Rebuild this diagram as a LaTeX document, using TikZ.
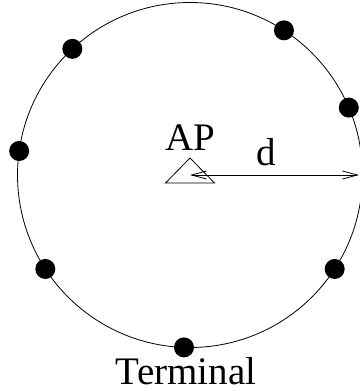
\documentclass[tikz,border=0pt]{standalone}
\usepackage{fontspec}
\setmainfont{Liberation Serif}
\usetikzlibrary{arrows.meta, calc}
\tikzset{
    terminal/.style={circle, fill=black, inner sep=0pt, minimum size=20pt},
    biglabel/.style={anchor=base, inner sep=0pt, font=\fontsize{39}{46}\selectfont},
    distarrow/.style={{Straight Barb[length=15pt,width=8pt]}-{Straight Barb[length=15pt,width=8pt]}, line width=0.8pt}
}

\begin{document}
\begin{tikzpicture}[x=1pt, y=-1pt, line width=0.8pt]
    \useasboundingbox (0,0) rectangle (359,391);
    \coordinate (ap) at (190,175);
    \draw (ap) circle[radius=172.5];
    % access point
    \draw (ap) ++(-24.5,8) -- ++(49,0) -- (190,158) -- cycle;
    \node[biglabel] (aplabel) at (190,150) {AP};
    % terminals on the rim
    \foreach \a [count=\i] in {-133,-57,-23,-172,-213,33,-268}
        \node[terminal] (t\i) at ($(ap)+(\a:172.5)$) {};
    \coordinate (rim) at (359,175);
    \draw[distarrow] (ap) -- node[biglabel, pos=0.45, above=9pt] (dlabel) {d} (rim);
    \node[biglabel, text depth=0pt] (termlabel) at (186,384) {Terminal};
\end{tikzpicture}
\end{document}
